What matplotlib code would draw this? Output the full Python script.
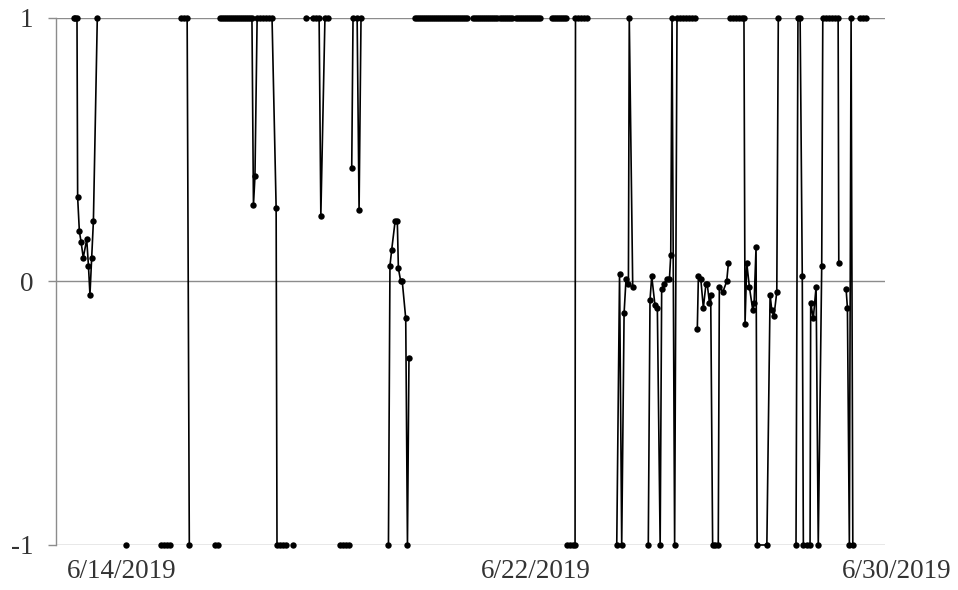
import numpy as np
import matplotlib
matplotlib.use("Agg")
import matplotlib.pyplot as plt
from matplotlib.transforms import ScaledTranslation

nan = np.nan

# Elapsed time of each reading (hours from the start of the record); NaN marks a gap in the record
hours = [
    8.3, 9.0, 9.7, 10.0, 10.8, 11.6, 12.6, 14.2, 15.0, 15.7, 16.5, 17.3, 19.1, nan,
    32.4, nan,
    48.6, 50.0, 51.4, 52.8, nan,
    57.9, 59.3, 60.7, 61.7, nan,
    73.6, 75.0, nan,
    75.9, 76.9, 77.8, 78.7, 79.6, 80.6, 81.5, 82.4, 83.4, 84.3, 85.2, 86.1, 87.1, 88.0, 88.9, 89.8, 90.7,
    91.4, 92.1, 93.1, 94.5, 95.8, 97.2, 98.6, 100.0, 101.9, 102.3, 103.7, 105.1, 106.5, nan,
    109.9, nan,
    115.8, 119.0, 120.4, 121.8, 122.6, 124.5, 125.7, nan,
    131.5, 132.9, 134.3, 135.7, nan,
    136.9, 137.5, 139.4, 140.3, 141.2, nan,
    153.9, 154.6, 155.4, 157.0, 158.0, 158.5, 159.6, 160.3, 161.9, 162.7, 163.4, nan,
    166.2, 167.1, 168.1, 169.0, 169.9, 170.8, 171.8, 172.7, 173.6, 174.6, 175.5,
    176.4, 177.3, 178.3, 179.2, 180.1, 181.0, 182.0, 182.9, 183.8, 184.7, 185.7, nan,
    186.6, 187.5, 188.4, 189.4, 190.3, nan,
    193.1, 194.0, 194.9, 195.8, 196.8, 197.7, 198.6, 199.6, 200.5, 201.4, 202.3, 203.3, 204.2, nan,
    205.6, 206.5, 207.4, 208.4, 209.3, 210.2, 211.1, nan,
    213.0, 213.9, 214.8, 215.8, 216.7, 217.6, 218.5, 219.5, 220.4, 221.3, 222.2, 223.2, 224.1, nan,
    229.6, 230.6, 231.5, 232.4, 233.4, 234.3, 235.2, 236.1, nan,
    236.6, 238.0, 239.4, 240.3, 240.5, 241.7, 243.1, 244.5, 245.9, nan,
    259.6, 260.9, 261.9, 263.0, 263.9, 265.0, 265.4, 267.0, nan,
    274.2, 275.0, 275.8, 277.3, 278.4, 279.7, 280.4, 281.5, 282.8, 284.0,
    284.6, 285.2, 286.4, 287.5, 288.9, 290.3, 291.7, 293.1, 294.5, 295.9, nan,
    296.9, 297.4, 298.5, 299.7, 300.9, 301.5, 302.5, 303.1, 304.0, 305.1,
    306.6, 307.1, 308.7, 310.5, 311.3, nan,
    312.1, 313.5, 314.8, 316.2, 317.6, 318.5, 319.0, 319.8, 321.0, 322.6,
    323.2, 324.1, 324.6, 329.1, 330.6, 331.4, 332.4, 333.7, 334.4, nan,
    342.6, 343.5, 344.5, 345.5, 346.0, 347.6, 349.1, 349.4, 350.6, 351.9,
    352.9, 354.5, 355.0, 356.5, 357.9, 359.3, 360.7, 362.1, 362.4, nan,
    365.8, 366.4, 367.3, 368.1, 368.9, nan,
    372.2, 373.6, 375.0,
]

# Reading at each time, on a -1 .. 1 scale
values = [
    1, 1, 1, 0.32, 0.19, 0.15, 0.09, 0.16, 0.06, -0.05, 0.09, 0.23, 1, nan,
    -1, nan,
    -1, -1, -1, -1, nan,
    1, 1, 1, -1, nan,
    -1, -1, nan,
    1, 1, 1, 1, 1, 1, 1, 1, 1, 1, 1, 1, 1, 1, 1, 1, 1,
    0.29, 0.40, 1, 1, 1, 1, 1, 1, 0.28, -1, -1, -1, -1, nan,
    -1, nan,
    1, 1, 1, 1, 0.25, 1, 1, nan,
    -1, -1, -1, -1, nan,
    0.43, 1, 1, 0.27, 1, nan,
    -1, 0.06, 0.12, 0.23, 0.23, 0.05, 0.0, 0.0, -0.14, -1, -0.29, nan,
    1, 1, 1, 1, 1, 1, 1, 1, 1, 1, 1,
    1, 1, 1, 1, 1, 1, 1, 1, 1, 1, 1, nan,
    1, 1, 1, 1, 1, nan,
    1, 1, 1, 1, 1, 1, 1, 1, 1, 1, 1, 1, 1, nan,
    1, 1, 1, 1, 1, 1, 1, nan,
    1, 1, 1, 1, 1, 1, 1, 1, 1, 1, 1, 1, 1, nan,
    1, 1, 1, 1, 1, 1, 1, 1, nan,
    -1, -1, -1, -1, 1, 1, 1, 1, 1, nan,
    -1, 0.03, -1, -0.12, 0.01, -0.01, 1, -0.02, nan,
    -1, -0.07, 0.02, -0.09, -0.10, -1, -0.03, -0.01, 0.01, 0.01,
    0.10, 1, -1, 1, 1, 1, 1, 1, 1, 1, nan,
    -0.18, 0.02, 0.01, -0.10, -0.01, -0.01, -0.08, -0.05, -1, -1,
    -1, -0.02, -0.04, 0.0, 0.07, nan,
    1, 1, 1, 1, 1, 1, -0.16, 0.07, -0.02, -0.11,
    -0.08, 0.13, -1, -1, -0.05, -0.11, -0.13, -0.04, 1, nan,
    -1, 1, 1, 0.02, -1, -1, -1, -0.08, -0.14, -0.02,
    -1, 0.06, 1, 1, 1, 1, 1, 1, 0.07, nan,
    -0.03, -0.10, -1, 1, -1, nan,
    1, 1, 1,
]

assert len(hours) == len(values)

# Date labels and the hour positions they sit at
tick_hours = [30.6, 222.2, 383.8]
tick_labels = ["6/14/2019", "6/22/2019", "6/30/2019"]
y_ticks = [-1, 0, 1]
x_end = 383.8

plt.rcParams["font.family"] = ["Liberation Serif", "DejaVu Serif"]

fig = plt.figure(figsize=(9.58, 5.90), dpi=100)
ax = fig.add_axes([0.0585, 0.0763, 0.8653, 0.8932])

grid_col = "#8c8c8c"
text_col = "#333333"

ax.plot(hours, values, "-o", color="black", lw=1.2, ms=4.6,
        markeredgewidth=0, clip_on=False, zorder=3)

ax.set_xlim(0, x_end)
ax.set_ylim(-1, 1)

ax.set_yticks(y_ticks)
ax.set_yticklabels([str(v) for v in y_ticks])
ax.yaxis.grid(True, color=grid_col, lw=1.0)
ax.set_axisbelow(True)

ax.set_xticks(tick_hours)
ax.set_xticklabels(tick_labels)

for side in ("top", "right", "bottom"):
    ax.spines[side].set_visible(False)
ax.spines["left"].set_color(grid_col)
ax.spines["left"].set_linewidth(1.0)

ax.tick_params(axis="y", length=5.8, width=1.0, color=grid_col,
               labelsize=19.5, labelcolor=text_col, pad=10.5)
ax.tick_params(axis="x", length=0, labelsize=19.5, labelcolor=text_col, pad=10)

# Keep the last date label fully inside the figure
fig.canvas.draw()
last = ax.get_xticklabels()[-1]
last.set_transform(last.get_transform() + ScaledTranslation(12 / 100, 0, fig.dpi_scale_trans))

fig.savefig("out.png", dpi=100, facecolor="white")
